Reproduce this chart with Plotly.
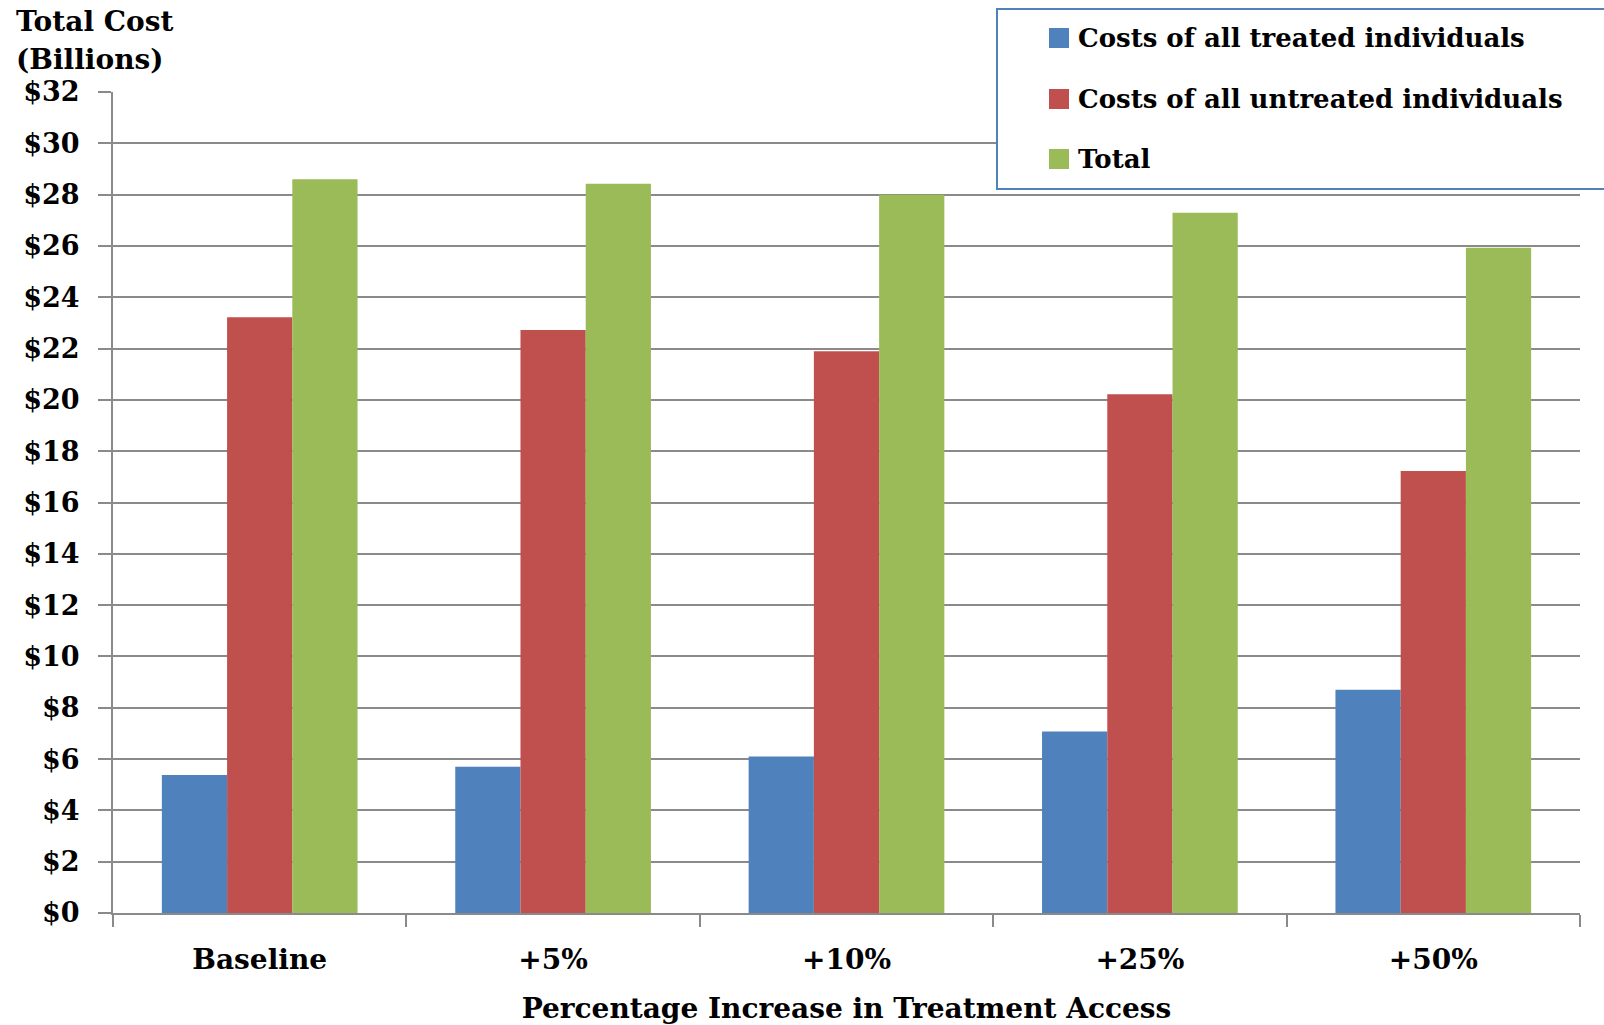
import plotly.graph_objects as go

# Scenario categories and cost series (billions of dollars)
categories = ["Baseline", "+5%", "+10%", "+25%", "+50%"]
treated = [5.38, 5.70, 6.10, 7.07, 8.70]
untreated = [23.22, 22.72, 21.90, 20.22, 17.23]
total = [28.60, 28.42, 28.00, 27.29, 25.93]

series_names = [
    "Costs of all treated individuals",
    "Costs of all untreated individuals",
    "Total",
]
series_colors = ["#4F81BD", "#C0504D", "#9BBB59"]
series_values = [treated, untreated, total]

FONT = "DejaVu Serif"
W, H = 1604, 1025
ML, MR, MT, MB = 113, 24, 92, 112

fig = go.Figure()
for name, vals, col in zip(series_names, series_values, series_colors):
    fig.add_trace(go.Bar(
        x=categories, y=vals, name=name,
        marker=dict(color=col, line=dict(width=0)),
        showlegend=False,
    ))

grid_col = "#8a8a8a"
fig.update_layout(
    width=W, height=H,
    margin=dict(l=ML, r=MR, t=MT, b=MB, pad=0, autoexpand=False),
    paper_bgcolor="white", plot_bgcolor="white",
    barmode="group", bargap=0.333, bargroupgap=0,
    font=dict(family=FONT, color="black", weight="bold"),
    xaxis=dict(
        type="category", automargin=False,
        showline=True, linecolor=grid_col, linewidth=2,
        ticks="outside", tickson="boundaries", ticklen=12,
        tickwidth=1.5, tickcolor=grid_col,
        showgrid=False,
        tickfont=dict(family=FONT, size=28, color="black", weight="bold"),
        ticklabelstandoff=20,
        title=dict(
            text="Percentage Increase in Treatment Access",
            font=dict(family=FONT, size=28, color="black", weight="bold"),
            standoff=24,
        ),
    ),
    yaxis=dict(
        range=[0, 32], dtick=2, tick0=0, tickprefix="$", automargin=False,
        showline=True, linecolor=grid_col, linewidth=2,
        ticks="outside", ticklen=13, tickwidth=1.5, tickcolor=grid_col,
        showgrid=True, gridcolor=grid_col, gridwidth=1.5,
        zeroline=False,
        tickfont=dict(family=FONT, size=27, color="black", weight="bold"),
        ticklabelstandoff=13,
    ),
)

pw, ph = W - ML - MR, H - MT - MB


def px_x(px):
    return (px - ML) / pw


def px_y(py):
    return 1 - (py - MT) / ph


# Axis caption above the value axis, one line per annotation
for line, cy in zip(["Total Cost", "(Billions)"], [21, 60]):
    fig.add_annotation(
        xref="paper", yref="paper", x=px_x(14), y=px_y(cy),
        xanchor="left", yanchor="middle", text=line, showarrow=False,
        font=dict(family=FONT, size=28, color="black", weight="bold"),
    )

# Legend panel
fig.add_shape(
    type="rect", xref="paper", yref="paper", layer="above",
    x0=px_x(997), x1=px_x(1640), y0=px_y(189), y1=px_y(9),
    fillcolor="white", line=dict(color="#4F81BD", width=2),
)
row_centres = [38, 99, 159]
for name, col, cy in zip(series_names, series_colors, row_centres):
    fig.add_shape(
        type="rect", xref="paper", yref="paper", layer="above",
        x0=px_x(1049), x1=px_x(1069), y0=px_y(cy + 10), y1=px_y(cy - 10),
        fillcolor=col, line=dict(width=0),
    )
    fig.add_annotation(
        xref="paper", yref="paper", x=px_x(1076), y=px_y(cy),
        xanchor="left", yanchor="middle", text=name, showarrow=False,
        font=dict(family=FONT, size=26, color="black", weight="bold"),
    )

fig.write_html("out.html")
